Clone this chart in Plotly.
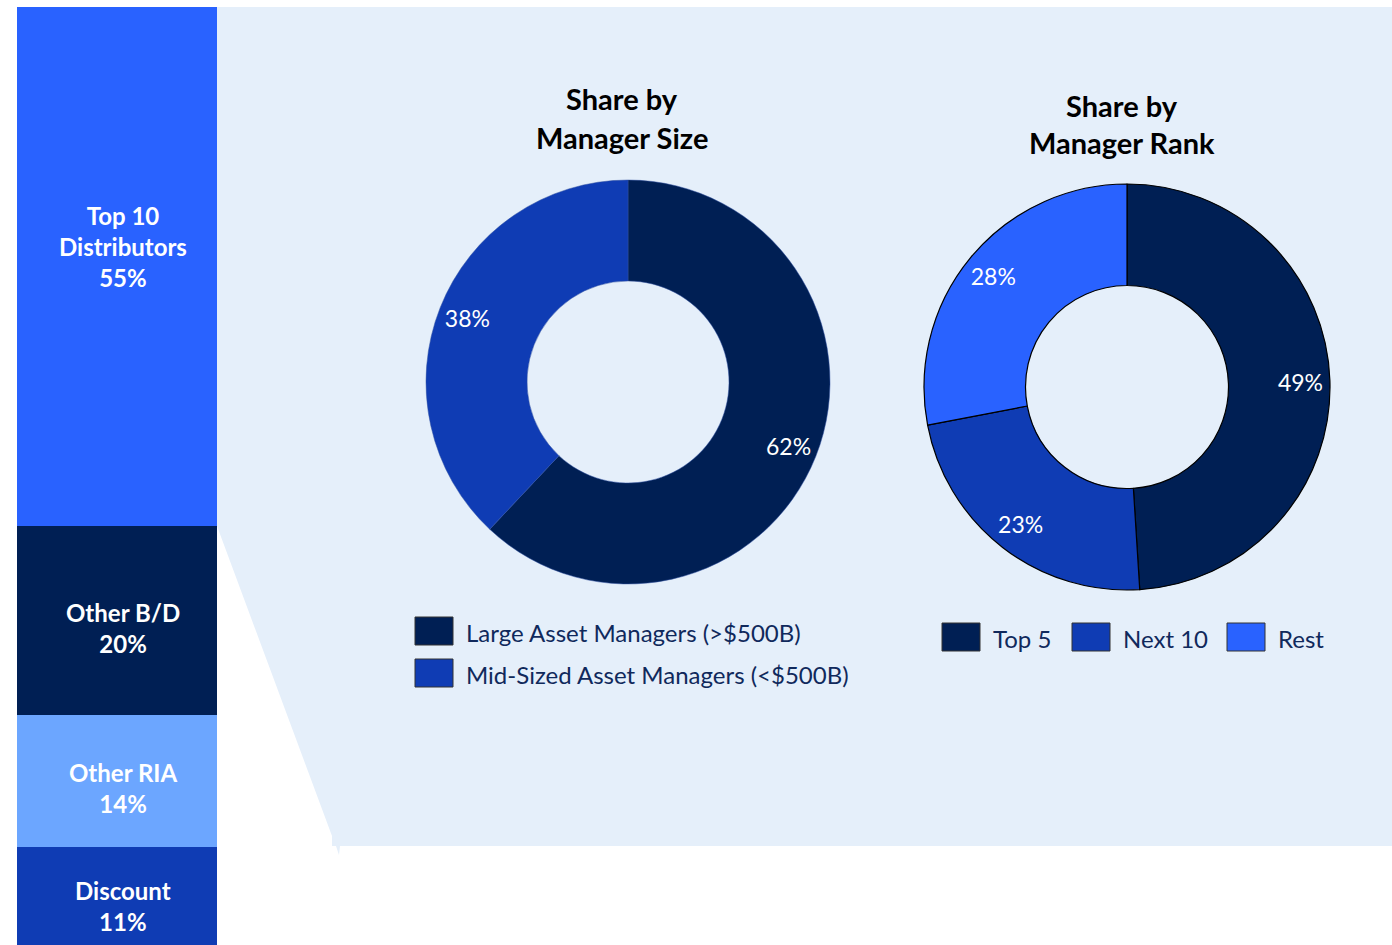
import plotly.graph_objects as go

W, H = 1392, 945

# ---------------- data ----------------
bar_labels = ["Discount", "Other RIA", "Other B/D", "Top 10<br>Distributors"]
bar_values = [11, 14, 20, 55]
bar_colors = ["#0F3CB4", "#6CA6FF", "#001F54", "#2962FF"]

size_labels = ["Large Asset Managers (>$500B)", "Mid-Sized Asset Managers (<$500B)"]
size_values = [62, 38]
size_colors = ["#001F54", "#0F3CB4"]

rank_labels = ["Top 5", "Next 10", "Rest"]
rank_values = [49, 23, 28]
rank_colors = ["#001F54", "#0F3CB4", "#2962FF"]

titles = [["Share by", "Manager Size"], ["Share by", "Manager Rank"]]

FONT = "Lato"
TXT = "#10295C"


def px(x):
    return x / W


def py(y):
    return 1 - y / H


fig = go.Figure()

# ---------------- stacked bar ----------------
for lab, val, col in zip(bar_labels, bar_values, bar_colors):
    fig.add_trace(go.Bar(
        x=[0], y=[val], width=[1],
        marker=dict(color=col, line=dict(width=0)),
        showlegend=False, hoverinfo="skip",
    ))

annotations = []
# segment labels anchored at each segment's data midpoint
cum = 0
for lab, val in zip(bar_labels, bar_values):
    mid = cum + val / 2
    cum += val
    annotations.append(dict(
        text=f"<b>{lab}<br>{val}%</b>", x=0, y=mid, xref="x", yref="y",
        showarrow=False, xanchor="center", yanchor="middle",
        xshift=6, yshift=(20 if val == max(bar_values) else -7),
        font=dict(family=FONT, size=24, color="white")))

# ---------------- donuts ----------------
def pie_domain(cx, cy, r):
    return dict(x=[px(cx - r), px(cx + r)], y=[py(cy + r), py(cy - r)])


pies = [
    (size_labels, size_values, size_colors, (628, 382, 202), dict(color="#3050A0", width=0.5)),
    (rank_labels, rank_values, rank_colors, (1127, 387, 203), dict(color="#000000", width=1.2)),
]
for labels, values, colors, (cx, cy, r), line in pies:
    dom = pie_domain(cx, cy, r)
    # ring
    fig.add_trace(go.Pie(
        labels=labels, values=values, sort=False, direction="clockwise",
        rotation=0, hole=0.5, domain=dom,
        marker=dict(colors=colors, line=line),
        textinfo="none", showlegend=False, hoverinfo="skip",
    ))
    # transparent overlay that only carries the percentage labels
    fig.add_trace(go.Pie(
        labels=labels, values=values, sort=False, direction="clockwise",
        rotation=0, hole=0.71, domain=dom,
        marker=dict(colors=["rgba(0,0,0,0)"] * len(values), line=dict(width=0)),
        texttemplate="%{value}%", textposition="inside",
        insidetextorientation="horizontal",
        textfont=dict(family=FONT, size=23, color="white"),
        showlegend=False, hoverinfo="skip",
    ))

shapes = []

# background panel
pts = [(217, 7), (1392, 7), (1392, 846), (340, 846), (339, 855), (336, 846),
       (332, 846), (332, 836), (217, 526)]
path = "M " + " L ".join(f"{px(x):.5f},{py(y):.5f}" for x, y in pts) + " Z"
shapes.append(dict(type="path", path=path, xref="paper", yref="paper",
                   fillcolor="#E5EFFA", line=dict(width=0), layer="below"))

# titles
for (l1, l2), cx, y1, y2 in [(titles[0], 622, 98, 137), (titles[1], 1122, 105, 143)]:
    for t, yy in [(l1, y1), (l2, y2)]:
        annotations.append(dict(text=f"<b>{t}</b>", x=px(cx), y=py(yy),
                                xref="paper", yref="paper", showarrow=False,
                                xanchor="center", yanchor="middle",
                                font=dict(family=FONT, size=29, color="#000000")))


def legend_item(x0, y0, label, color):
    shapes.append(dict(type="rect", xref="paper", yref="paper",
                       x0=px(x0), x1=px(x0 + 38), y0=py(y0 + 28), y1=py(y0),
                       fillcolor=color, line=dict(color="#333333", width=1),
                       layer="above"))
    annotations.append(dict(text=label, x=px(x0 + 49), y=py(y0 + 15),
                            xref="paper", yref="paper", showarrow=False,
                            xanchor="left", yanchor="middle",
                            font=dict(family=FONT, size=24, color=TXT)))


legend_item(415, 617, size_labels[0], size_colors[0])
legend_item(415, 659, size_labels[1], size_colors[1])
for x0, lab, col in zip([942, 1072, 1227], rank_labels, rank_colors):
    legend_item(x0, 623, lab, col)

# bar spans page y 7 .. ~951 for 0..100 %
scale = (951 - 7) / 100.0
y_bottom = (951 - 945) / scale
y_top = 100 + 7 / scale

fig.update_layout(
    width=W, height=H,
    margin=dict(l=0, r=0, t=0, b=0),
    paper_bgcolor="white", plot_bgcolor="rgba(0,0,0,0)",
    barmode="stack", bargap=0,
    xaxis=dict(domain=[px(17), px(217)], range=[-0.5, 0.5], visible=False,
               fixedrange=True),
    yaxis=dict(domain=[0, 1], range=[y_bottom, y_top], visible=False,
               fixedrange=True),
    shapes=shapes, annotations=annotations,
)

fig.write_html(
    "out.html",
    config={"displayModeBar": False},
    post_script="document.body.style.margin='0';document.body.style.overflow='hidden';",
)
